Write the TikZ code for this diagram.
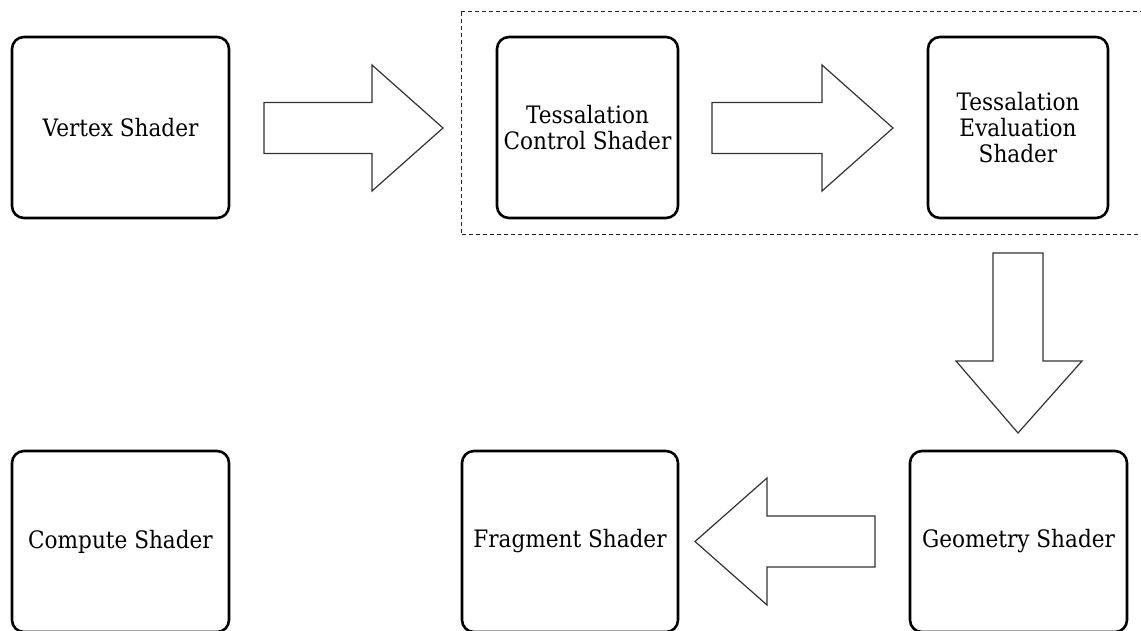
\documentclass[tikz,border=0pt]{standalone}
\usepackage{fontspec}
\setmainfont{DejaVu Serif}[FakeStretch=0.9]
\begin{document}
\begin{tikzpicture}[x=1pt,y=-1pt,
  shaderbox/.style={draw=black, line width=2.6pt, rounded corners=12pt,
    fill=white, align=center, inner sep=2pt,
    font=\fontsize{24}{26}\selectfont},
  blockarrow/.style={draw=black!80, line width=1.2pt, fill=white, line join=miter},
  groupframe/.style={draw=black!85, line width=1pt, dash pattern=on 4pt off 3pt}]
  \useasboundingbox (0,0) rectangle (1141,631);
  \clip (0,0) rectangle (1141,631);

  % tessellation stage frame
  \draw[groupframe] (461,12) rectangle (1150,235);

  % shader stages
  \node[shaderbox, minimum width=217pt, minimum height=181pt] (vertex)   at (120.5,127.5) {Vertex Shader};
  \node[shaderbox, minimum width=181pt, minimum height=181pt] (tcs)      at (587.5,127.5) {Tessalation\\Control Shader};
  \node[shaderbox, minimum width=180pt, minimum height=181pt] (tes)      at (1018,127.5)  {Tessalation\\Evaluation\\Shader};
  \node[shaderbox, minimum width=217pt, minimum height=181pt] (geometry) at (1018.5,541.5) {Geometry Shader};
  \node[shaderbox, minimum width=216pt, minimum height=181pt] (fragment) at (570,541.5)  {Fragment Shader};
  \node[shaderbox, minimum width=217pt, minimum height=181pt] (compute)  at (120.5,541.5) {Compute Shader};

  % block arrows between the stages
  \draw[blockarrow] (264,102.5) -- (372,102.5) -- (372,65) -- (443,128)
    -- (372,191) -- (372,153.5) -- (264,153.5) -- cycle;
  \draw[blockarrow] (712,102.5) -- (822,102.5) -- (822,65) -- (893,128)
    -- (822,191) -- (822,153.5) -- (712,153.5) -- cycle;
  \draw[blockarrow] (993,253) -- (1043,253) -- (1043,361) -- (1082,361)
    -- (1018,433) -- (956,361) -- (993,361) -- cycle;
  \draw[blockarrow] (875,516) -- (767,516) -- (767,478) -- (695,541.5)
    -- (767,605) -- (767,567) -- (875,567) -- cycle;
\end{tikzpicture}
\end{document}
